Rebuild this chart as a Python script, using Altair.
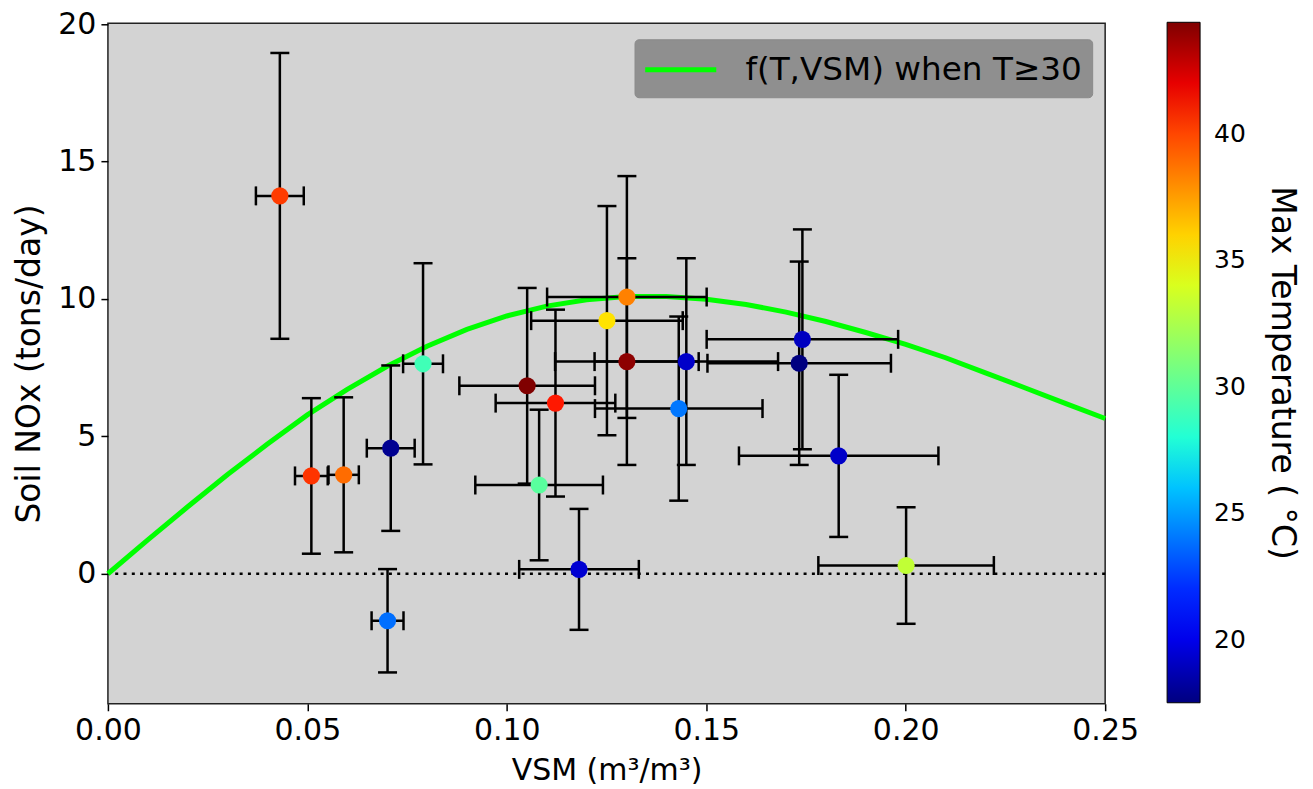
import altair as alt
import pandas as pd

# ---- data ----
vsm = [0.0431, 0.0510, 0.0591, 0.0701, 0.0709, 0.0790, 0.1051, 0.1081, 0.1122, 0.1181,
       0.1251, 0.1301, 0.1301, 0.1431, 0.1450, 0.1733, 0.1741, 0.1832, 0.2001]
nox = [13.75, 3.56, 3.60, -1.71, 4.57, 7.64, 6.84, 3.23, 6.21, 0.16,
       9.21, 10.07, 7.72, 6.01, 7.72, 7.66, 8.53, 4.29, 0.30]
vsm_err = [0.0060, 0.0041, 0.0038, 0.0040, 0.0060, 0.0050, 0.0170, 0.0160, 0.0150, 0.0150,
           0.0190, 0.0200, 0.0180, 0.0210, 0.0230, 0.0230, 0.0240, 0.0250, 0.0220]
nox_err = [5.20, 2.83, 2.82, 1.88, 3.01, 3.66, 3.56, 2.74, 3.40, 2.20,
           4.17, 4.40, 3.76, 3.35, 3.76, 3.70, 4.00, 2.95, 2.12]
tmax = [40.3, 40.5, 38.9, 23.8, 17.9, 29.0, 44.4, 29.8, 41.3, 19.4,
        35.5, 38.3, 44.1, 24.0, 19.2, 17.5, 19.0, 19.2, 33.2]

curve_vsm = [0.00, 0.01, 0.02, 0.03, 0.04, 0.05, 0.06, 0.07, 0.08, 0.09, 0.10, 0.11, 0.12,
             0.13, 0.14, 0.15, 0.16, 0.17, 0.18, 0.19, 0.20, 0.21, 0.22, 0.23, 0.24, 0.25]
curve_nox = [0.00, 1.23, 2.44, 3.61, 4.72, 5.78, 6.71, 7.55, 8.28, 8.89, 9.38, 9.74, 9.97,
             10.09, 10.09, 9.99, 9.80, 9.52, 9.18, 8.78, 8.35, 7.86, 7.31, 6.76, 6.20, 5.65]
curve_label = ["f(T,VSM) when T\u226530"]

zero_line = [0]
x_ticks = [0.00, 0.05, 0.10, 0.15, 0.20, 0.25]
y_ticks = [0, 5, 10, 15, 20]
cbar_ticks = [20, 25, 30, 35, 40]
cbar_title = ["Max Temperature ( \u00b0C)"]

# ---- tables ----
pts = pd.DataFrame({"vsm": vsm, "nox": nox, "vsm_err": vsm_err, "nox_err": nox_err, "tmax": tmax})
pts["x_lo"] = pts["vsm"] - pts["vsm_err"]
pts["x_hi"] = pts["vsm"] + pts["vsm_err"]
pts["y_lo"] = pts["nox"] - pts["nox_err"]
pts["y_hi"] = pts["nox"] + pts["nox_err"]

curve = pd.DataFrame({"vsm": curve_vsm, "nox": curve_nox, "label": curve_label * len(curve_vsm)})
zero_df = pd.DataFrame({"zero": zero_line})
title_df = pd.DataFrame({"t": cbar_title})

# ---- scales / axes ----
FONT = "DejaVu Sans"
XS = alt.Scale(domain=[0, 0.25], nice=False, zero=False)
YS = alt.Scale(domain=[-4.73, 20.03], nice=False, zero=False)
XA = alt.Axis(values=x_ticks, format=".2f", title="VSM (m\u00b3/m\u00b3)", labelFlush=False,
              titleFontSize=30, titlePadding=10)
YA = alt.Axis(values=y_ticks, format="d", title="Soil NOx (tons/day)", labelFlush=False,
              titleFontSize=33, titlePadding=11)

# jet colormap stops (position in T between 17.5 and 44.4)
jet_pos = [0, 0.11, 0.125, 0.34, 0.35, 0.375, 0.64, 0.65, 0.66, 0.89, 0.91, 1.0]
jet_col = ["#000080", "#0000ff", "#0000ff", "#00dbff", "#00e5f7", "#15ffe2",
           "#efff08", "#f7f500", "#ffec00", "#ff1300", "#e80000", "#800000"]
t_min, t_max = 17.5, 44.4
jet_dom = [t_min + p * (t_max - t_min) for p in jet_pos]
CS = alt.Scale(domain=jet_dom, range=jet_col, interpolate="rgb")

def X(f):
    return alt.X(f"{f}:Q", scale=XS, axis=XA)

def Y(f):
    return alt.Y(f"{f}:Q", scale=YS, axis=YA)

zero = alt.Chart(zero_df).mark_rule(color="black", strokeWidth=2.5, strokeDash=[3, 5.3]).encode(
    y=Y("zero"))

line = alt.Chart(curve).mark_line(strokeWidth=5).encode(
    x=X("vsm"), y=Y("nox"),
    stroke=alt.Stroke("label:N", scale=alt.Scale(domain=curve_label, range=["#00ff00"]),
                      legend=alt.Legend(orient="none", legendX=527, legendY=16, title=None,
                                        fillColor="#8f8f8f", strokeColor="#8a8a8a",
                                        cornerRadius=4, padding=10,
                                        symbolType="M-1.1,0H2.85",
                                        symbolSize=1296, symbolStrokeWidth=5,
                                        labelFont=FONT, labelFontSize=32.7, labelColor="black",
                                        labelOffset=60, labelLimit=0)))

base = alt.Chart(pts)
ebar_kw = dict(color="black", strokeWidth=2.5)
vbar = base.mark_rule(**ebar_kw).encode(x=X("vsm"), y=Y("y_lo"), y2="y_hi:Q")
hbar = base.mark_rule(**ebar_kw).encode(x=X("x_lo"), x2="x_hi:Q", y=Y("nox"))
cap_kw = dict(size=19, thickness=2.5, color="black", opacity=1)
cap_top = base.mark_tick(orient="horizontal", **cap_kw).encode(x=X("vsm"), y=Y("y_hi"))
cap_bot = base.mark_tick(orient="horizontal", **cap_kw).encode(x=X("vsm"), y=Y("y_lo"))
cap_l = base.mark_tick(orient="vertical", **cap_kw).encode(x=X("x_lo"), y=Y("nox"))
cap_r = base.mark_tick(orient="vertical", **cap_kw).encode(x=X("x_hi"), y=Y("nox"))

points = base.mark_circle(size=295, opacity=1).encode(
    x=X("vsm"), y=Y("nox"),
    color=alt.Color("tmax:Q", scale=CS,
                    legend=alt.Legend(orient="none", legendX=1060, legendY=-1, direction="vertical",
                                      gradientLength=681, gradientThickness=33,
                                      gradientStrokeColor="black", gradientStrokeWidth=1,
                                      values=cbar_ticks, labelOverlap=False,
                                      labelFont=FONT, labelFontSize=25, labelColor="black",
                                      labelOffset=14, title=None, padding=0)))

cbar_label = alt.Chart(title_df).mark_text(
    angle=90, font=FONT, fontSize=33, color="black", align="center", baseline="middle"
).encode(x=alt.value(1175), y=alt.value(350), text="t:N")

chart = alt.layer(zero, line, vbar, hbar, cap_top, cap_bot, cap_l, cap_r, points, cbar_label).properties(
    width=998, height=681,
    autosize=alt.AutoSizeParams(type="none"),
    padding={"left": 100, "top": 15, "right": 200, "bottom": 82},
).configure(font=FONT).configure_view(
    fill="#d3d3d3", stroke="#222222", strokeWidth=1.5
).configure_axis(
    labelFont=FONT, labelFontSize=30, labelColor="black",
    titleFont=FONT, titleFontWeight="normal", titleColor="black",
    tickColor="black", tickSize=7, tickWidth=1.5, domain=False, grid=False, labelPadding=5,
)

chart.save("out.html", embed_options={"renderer": "svg", "actions": False})
